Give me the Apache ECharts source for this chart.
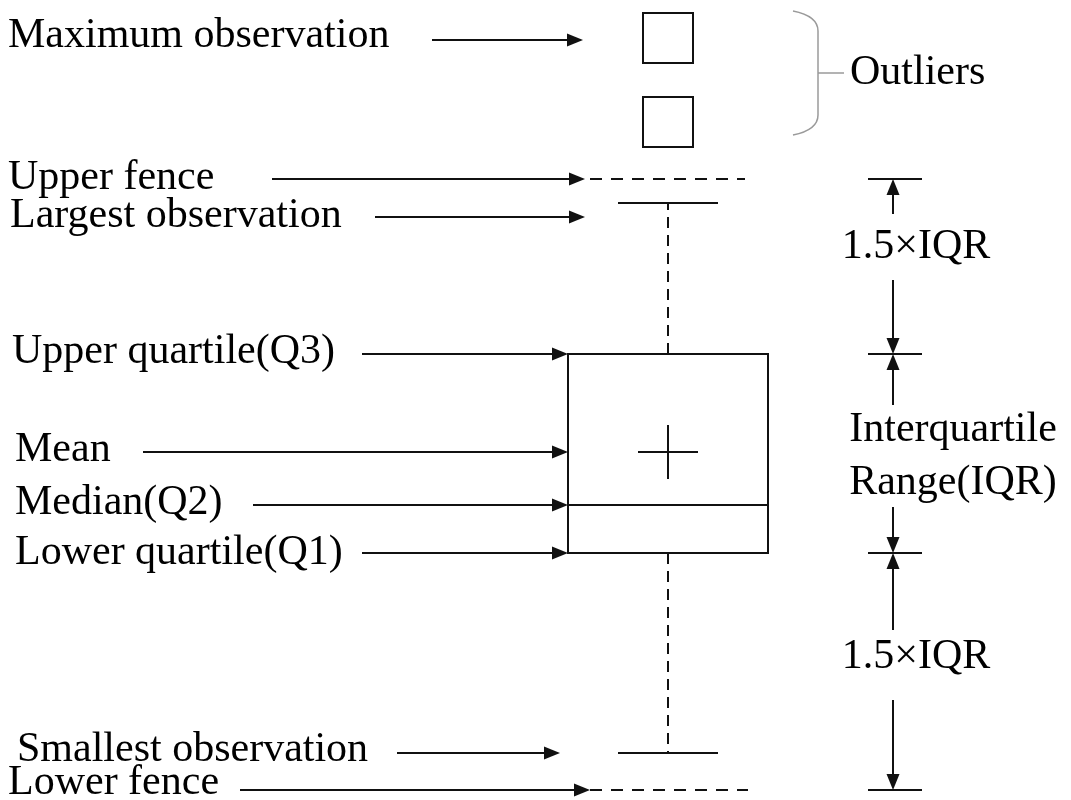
<!DOCTYPE html>
<html>
<head>
<meta charset="utf-8">
<title>Box plot anatomy</title>
<script src="https://cdn.jsdelivr.net/npm/echarts@6/dist/echarts.min.js"></script>
<style>
  html, body { margin: 0; padding: 0; background: #fff; }
  #chart { width: 1071px; height: 800px; }
</style>
</head>
<body>
<div id="chart"></div>
<script>
// box statistics, y value (0 = bottom of the drawing)
const boxKeys = ['lowerFence', 'smallest', 'q1', 'median', 'mean', 'q3', 'largest', 'upperFence'];
const boxValues = [10, 47, 247, 295, 348, 446, 597, 621];
const outlierValues = [678, 762];

// left-hand annotations and the value each one points at
const labelNames = ['Maximum observation', 'Upper fence', 'Largest observation', 'Upper quartile(Q3)',
  'Mean', 'Median(Q2)', 'Lower quartile(Q1)', 'Smallest observation', 'Lower fence'];
const labelKeys = ['max', 'upperFence', 'largest', 'q3', 'mean', 'median', 'q1', 'smallest', 'lowerFence'];

// right-hand dimension labels
const dimLabels = ['1.5×IQR', 'Interquartile\nRange(IQR)', '1.5×IQR'];
const braceLabel = 'Outliers';

const val = k => k === 'max' ? Math.max(...outlierValues) : boxValues[boxKeys.indexOf(k)];

// layout only (pixels): text x, text offset, arrow start/end, arrow offset
const labelLayout = [
  { tx: 8, ty: -4, from: 432, to: 583, ay: 2 },
  { tx: 8, ty: -1, from: 272, to: 585, ay: 0 },
  { tx: 10, ty: -1, from: 375, to: 585, ay: 14 },
  { tx: 12, ty: -2, from: 362, to: 568, ay: 0 },
  { tx: 15, ty: -2, from: 143, to: 568, ay: 0 },
  { tx: 15, ty: -2, from: 253, to: 568, ay: 0 },
  { tx: 15, ty: 0, from: 362, to: 568, ay: 0 },
  { tx: 17, ty: -3, from: 397, to: 560, ay: 0 },
  { tx: 8, ty: -7, from: 240, to: 590, ay: 0 }
];

const BOX_X = 668;
const FONT = '42px "Liberation Serif", "Times New Roman", serif';
const INK = '#111';

function arrowHead(tip, dir, len, half) {
  // dir: 'right' | 'up' | 'down'
  const [x, y] = tip;
  let pts;
  if (dir === 'right') pts = [[x, y], [x - len, y - half], [x - len, y + half]];
  else if (dir === 'up') pts = [[x, y], [x - half, y + len], [x + half, y + len]];
  else pts = [[x, y], [x - half, y - len], [x + half, y - len]];
  return { type: 'polygon', shape: { points: pts }, style: { fill: INK } };
}

function line(a, b, extra) {
  return {
    type: 'line',
    shape: { x1: a[0], y1: a[1], x2: b[0], y2: b[1] },
    style: Object.assign({ stroke: INK, lineWidth: 2 }, extra || {})
  };
}

function text(str, x, y, align) {
  return {
    type: 'text',
    style: { text: str, x: x, y: y, font: FONT, fill: '#000', align: align || 'left', verticalAlign: 'middle', lineHeight: 52 }
  };
}

const chart = echarts.init(document.getElementById('chart'));

chart.setOption({
  animation: false,
  grid: { left: 0, right: 0, top: 0, bottom: 0 },
  xAxis: { type: 'value', min: 0, max: 1071, show: false },
  yAxis: { type: 'value', min: 0, max: 800, show: false },
  series: [
    {
      // the box, median, mean and whiskers
      name: 'box',
      type: 'custom',
      encode: { x: 0, y: [1, 2, 3, 4, 5, 6] },
      data: [[BOX_X, val('q1'), val('median'), val('q3'), val('mean'), val('smallest'), val('largest')]],
      renderItem: (params, api) => {
        const x = api.value(0);
        const q1 = api.value(1), med = api.value(2), q3 = api.value(3);
        const mean = api.value(4), lo = api.value(5), hi = api.value(6);
        const p = (dx, y) => api.coord([x + dx, y]);
        const tl = p(-100, q3), br = p(100, q1);
        const m = p(0, mean);
        const dash = { lineDash: [11, 7] };
        return {
          type: 'group',
          children: [
            { type: 'rect', shape: { x: tl[0], y: tl[1], width: br[0] - tl[0], height: br[1] - tl[1] },
              style: { fill: '#fff', stroke: INK, lineWidth: 2 } },
            line(p(-100, med), p(100, med)),
            line([m[0] - 30, m[1]], [m[0] + 30, m[1]]),
            line([m[0], m[1] - 27], [m[0], m[1] + 27]),
            line(p(0, q3), p(0, hi), dash),
            line(p(0, q1), p(0, lo), dash),
            line(p(-50, hi), p(50, hi)),
            line(p(-50, lo), p(50, lo))
          ]
        };
      }
    },
    {
      // dashed fences
      name: 'fences',
      type: 'custom',
      data: [[BOX_X, val('upperFence'), 77], [BOX_X, val('lowerFence'), 80]],
      renderItem: (params, api) => {
        const x = api.value(0), y = api.value(1), right = api.value(2);
        return line(api.coord([x - 78, y]), api.coord([x + right, y]), { lineDash: [12, 9] });
      }
    },
    {
      name: 'outliers',
      type: 'scatter',
      symbol: 'rect',
      symbolSize: 50,
      itemStyle: { color: '#fff', borderColor: INK, borderWidth: 2, opacity: 1 },
      data: outlierValues.map(v => [BOX_X, v])
    },
    {
      // left annotations with arrows
      name: 'labels',
      type: 'custom',
      data: labelKeys.map((k, i) => [labelLayout[i].to, val(k)]),
      renderItem: (params, api) => {
        const L = labelLayout[params.dataIndex];
        const y = api.coord([0, api.value(1)])[1] + L.ay;
        const a = api.coord([L.from, 0])[0];
        const b = api.coord([api.value(0), 0])[0];
        return {
          type: 'group',
          children: [
            text(labelNames[params.dataIndex], L.tx, y + L.ty),
            line([a, y], [b - 10, y]),
            arrowHead([b, y], 'right', 16, 6.5)
          ]
        };
      }
    },
    {
      // outlier brace
      name: 'brace',
      type: 'custom',
      data: [[818, Math.min(...outlierValues), Math.max(...outlierValues)]],
      renderItem: (params, api) => {
        const x = api.coord([api.value(0), 0])[0];
        const top = api.coord([0, api.value(2)])[1] - 27;
        const bot = api.coord([0, api.value(1)])[1] + 13;
        const mid = (top + bot) / 2;
        const d = `M${x - 25} ${top} Q${x} ${top + 5} ${x} ${top + 20} L${x} ${bot - 20} Q${x} ${bot - 5} ${x - 25} ${bot}`;
        return {
          type: 'group',
          children: [
            { type: 'path', shape: { pathData: d }, style: { fill: null, stroke: '#9a9a9a', lineWidth: 1.5 } },
            line([x, mid], [x + 26, mid], { stroke: '#9a9a9a', lineWidth: 1.5 }),
            text(braceLabel, x + 32, mid, 'left')
          ]
        };
      }
    },
    {
      // dimension lines on the right
      name: 'dimensions',
      type: 'custom',
      data: [[893, val('upperFence'), val('q3'), 0], [893, val('q3'), val('q1'), 1], [893, val('q1'), val('lowerFence'), 2]],
      renderItem: (params, api) => {
        const x = api.coord([api.value(0), 0])[0];
        const y1 = api.coord([0, api.value(1)])[1];
        const y2 = api.coord([0, api.value(2)])[1];
        const i = api.value(3);
        // gap around the text, in pixels from each end
        const gaps = [[35, 74], [51, 46], [77, 90]];
        const textY = [[247], [430, 483], [657]][i];
        const tx = i === 1 ? 953 : 916;
        const kids = [
          line([x - 25, y1], [x + 29, y1]),
          line([x - 25, y2], [x + 29, y2]),
          line([x, y1 + 10], [x, y1 + gaps[i][0]]),
          arrowHead([x, y1], 'up', 16, 6.5),
          line([x, y2 - gaps[i][1]], [x, y2 - 10]),
          arrowHead([x, y2], 'down', 16, 6.5)
        ];
        dimLabels[i].split('\n').forEach((s, k) => kids.push(text(s, tx, textY[k], 'center')));
        return { type: 'group', children: kids };
      }
    }
  ]
});
</script>
</body>
</html>
